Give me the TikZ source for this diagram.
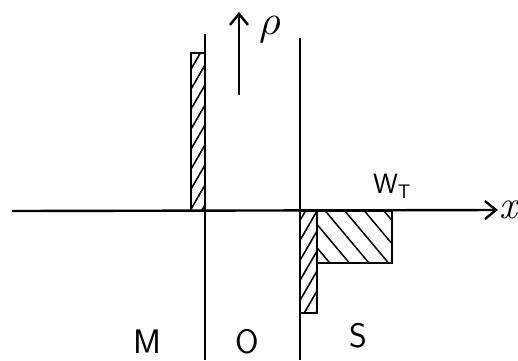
\documentclass[tikz,border=0pt]{standalone}
\usepackage{graphicx}
\usepackage{tikz}
\usetikzlibrary{arrows.meta,patterns.meta,positioning}

\begin{document}
\begin{tikzpicture}[x=1pt, y=-1pt, line width=2.2pt, every node/.style={inner sep=0pt}]
        \tikzset{
            lbl/.style={font=\sffamily\fontsize{34}{36}\selectfont},
            arr/.style={-{Straight Barb[length=11pt,width=18pt,line width=2.4pt]}, line width=2.4pt},
            bar/.style={draw, line width=2pt},
            ne/.style={pattern={Lines[angle=60, distance=10pt, line width=1.6pt]}},
            nw/.style={pattern={Lines[angle=-50, distance=15pt, line width=1.5pt]}}
        }
        \useasboundingbox (0,0) rectangle (518,360);
        % interfaces
        \draw (205,34) -- (205,360);
        \draw (300,38) -- (300,360);
        % charge blocks
        \draw[bar, ne] (191,53) rectangle (205,211);
        \draw[bar, ne] (300,211) rectangle (317,313);
        \draw[bar, nw] (317,211) rectangle (392,263);
        % axes
        \coordinate (xs) at (12,211);
        \node[lbl, font=\itshape\fontsize{40}{42}\selectfont] (xl) at (508,210) {x};
        \draw[arr] (xs) -- (xl.west);
        \coordinate (rs) at (239,95);
        \coordinate (re) at (239,12);
        \draw[arr] (rs) -- (re);
        \node (rho) at (270,30) {\scalebox{4.2}{$\rho$}};
        \node[lbl, font=\sffamily\fontsize{28}{30}\selectfont] (wt) at (392,186) {W\textsubscript{T}};
        % regions
        \node[lbl] (m) at (147,342) {M};
        \node[lbl] (o) at (247,342) {O};
        \node[lbl] (s) at (358,336) {S};
    \end{tikzpicture}
\end{document}
